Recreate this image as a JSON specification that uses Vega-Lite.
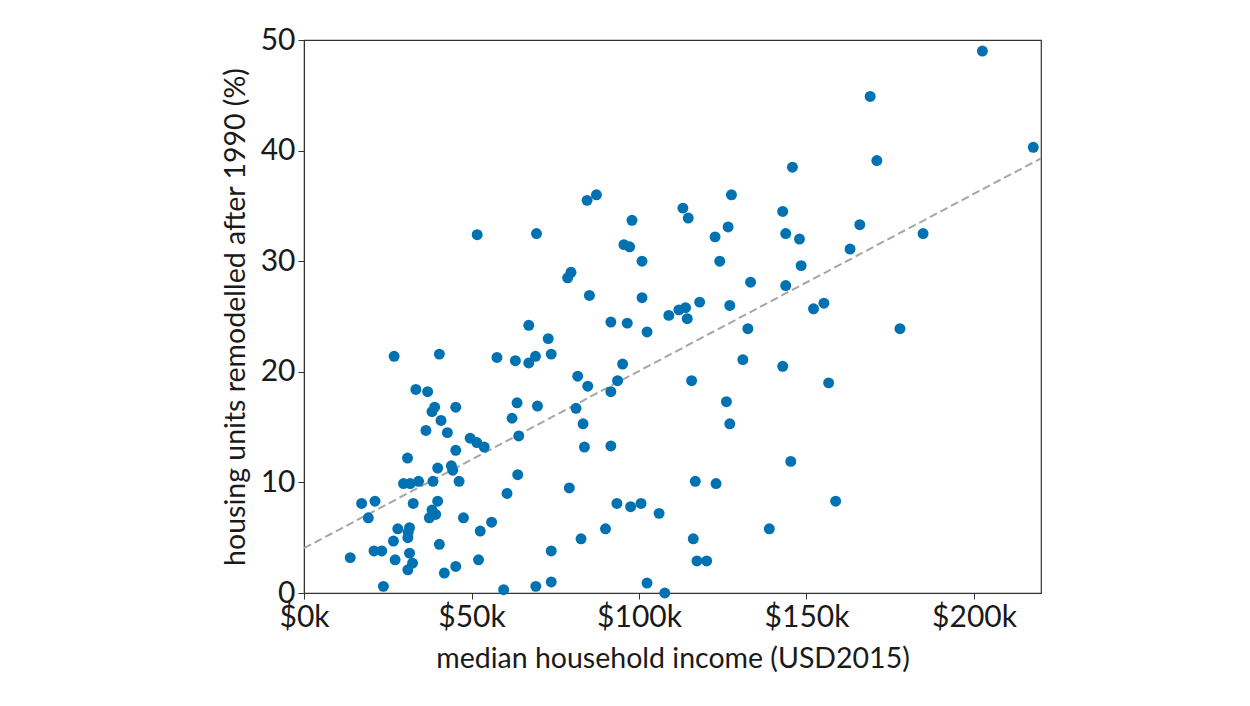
{
  "$schema": "https://vega.github.io/schema/vega-lite/v6.json",
  "autosize": "none",
  "width": 737,
  "height": 553,
  "padding": {"left": 304, "top": 40, "right": 209, "bottom": 113},
  "background": "white",
  "datasets": {
    "tracts": [
      {"income": 26900, "remodelled": 21.4}, {"income": 40400, "remodelled": 21.6},
      {"income": 57600, "remodelled": 21.3}, {"income": 63100, "remodelled": 21.0},
      {"income": 67100, "remodelled": 20.8}, {"income": 69100, "remodelled": 21.4},
      {"income": 33400, "remodelled": 18.4}, {"income": 36900, "remodelled": 18.2},
      {"income": 39000, "remodelled": 16.8}, {"income": 38200, "remodelled": 16.4},
      {"income": 45300, "remodelled": 16.8}, {"income": 40900, "remodelled": 15.6},
      {"income": 36400, "remodelled": 14.7}, {"income": 42800, "remodelled": 14.5},
      {"income": 63600, "remodelled": 17.2}, {"income": 62100, "remodelled": 15.8},
      {"income": 69700, "remodelled": 16.9}, {"income": 49600, "remodelled": 14.0},
      {"income": 51600, "remodelled": 13.6}, {"income": 53800, "remodelled": 13.2},
      {"income": 64100, "remodelled": 14.2}, {"income": 45300, "remodelled": 12.9},
      {"income": 30900, "remodelled": 12.2}, {"income": 39900, "remodelled": 11.3},
      {"income": 44000, "remodelled": 11.5}, {"income": 44400, "remodelled": 11.1},
      {"income": 29700, "remodelled": 9.9}, {"income": 31700, "remodelled": 9.9},
      {"income": 34200, "remodelled": 10.1}, {"income": 38500, "remodelled": 10.1},
      {"income": 46300, "remodelled": 10.1}, {"income": 63800, "remodelled": 10.7},
      {"income": 60600, "remodelled": 9.0}, {"income": 17200, "remodelled": 8.1},
      {"income": 21200, "remodelled": 8.3}, {"income": 19200, "remodelled": 6.8},
      {"income": 32600, "remodelled": 8.1}, {"income": 39900, "remodelled": 8.3},
      {"income": 38200, "remodelled": 7.5}, {"income": 39300, "remodelled": 7.1},
      {"income": 37400, "remodelled": 6.8}, {"income": 47600, "remodelled": 6.8},
      {"income": 56000, "remodelled": 6.4}, {"income": 52600, "remodelled": 5.6},
      {"income": 28000, "remodelled": 5.8}, {"income": 31500, "remodelled": 5.9},
      {"income": 31100, "remodelled": 5.5}, {"income": 31000, "remodelled": 5.0},
      {"income": 26700, "remodelled": 4.7}, {"income": 40400, "remodelled": 4.4},
      {"income": 20900, "remodelled": 3.8}, {"income": 23200, "remodelled": 3.8},
      {"income": 31500, "remodelled": 3.6}, {"income": 13800, "remodelled": 3.2},
      {"income": 27200, "remodelled": 3.0}, {"income": 32400, "remodelled": 2.7},
      {"income": 31000, "remodelled": 2.1}, {"income": 52100, "remodelled": 3.0},
      {"income": 45300, "remodelled": 2.4}, {"income": 41900, "remodelled": 1.8},
      {"income": 23700, "remodelled": 0.6}, {"income": 59600, "remodelled": 0.3},
      {"income": 69200, "remodelled": 0.6},
      {"income": 51700, "remodelled": 32.4}, {"income": 84500, "remodelled": 35.5},
      {"income": 87300, "remodelled": 36.0}, {"income": 69400, "remodelled": 32.5},
      {"income": 97900, "remodelled": 33.7}, {"income": 113100, "remodelled": 34.8},
      {"income": 114700, "remodelled": 33.9}, {"income": 127600, "remodelled": 36.0},
      {"income": 126600, "remodelled": 33.1}, {"income": 122700, "remodelled": 32.2},
      {"income": 124100, "remodelled": 30.0}, {"income": 95500, "remodelled": 31.5},
      {"income": 97200, "remodelled": 31.3}, {"income": 100900, "remodelled": 30.0},
      {"income": 78700, "remodelled": 28.5}, {"income": 79700, "remodelled": 29.0},
      {"income": 85200, "remodelled": 26.9}, {"income": 100900, "remodelled": 26.7},
      {"income": 133300, "remodelled": 28.1}, {"income": 127100, "remodelled": 26.0},
      {"income": 118100, "remodelled": 26.3}, {"income": 108900, "remodelled": 25.1},
      {"income": 111900, "remodelled": 25.6}, {"income": 113900, "remodelled": 25.8},
      {"income": 114400, "remodelled": 24.8}, {"income": 132500, "remodelled": 23.9},
      {"income": 91600, "remodelled": 24.5}, {"income": 96500, "remodelled": 24.4},
      {"income": 102400, "remodelled": 23.6}, {"income": 67100, "remodelled": 24.2},
      {"income": 72900, "remodelled": 23.0}, {"income": 73800, "remodelled": 21.6},
      {"income": 131000, "remodelled": 21.1}, {"income": 95100, "remodelled": 20.7},
      {"income": 93600, "remodelled": 19.2}, {"income": 91600, "remodelled": 18.2},
      {"income": 81700, "remodelled": 19.6}, {"income": 84700, "remodelled": 18.7},
      {"income": 115700, "remodelled": 19.2}, {"income": 81200, "remodelled": 16.7},
      {"income": 83300, "remodelled": 15.3}, {"income": 126100, "remodelled": 17.3},
      {"income": 127100, "remodelled": 15.3}, {"income": 83700, "remodelled": 13.2},
      {"income": 91600, "remodelled": 13.3}, {"income": 79200, "remodelled": 9.5},
      {"income": 116800, "remodelled": 10.1}, {"income": 123000, "remodelled": 9.9},
      {"income": 93400, "remodelled": 8.1}, {"income": 97500, "remodelled": 7.8},
      {"income": 100600, "remodelled": 8.1}, {"income": 106000, "remodelled": 7.2},
      {"income": 90000, "remodelled": 5.8}, {"income": 82700, "remodelled": 4.9},
      {"income": 73800, "remodelled": 3.8}, {"income": 116200, "remodelled": 4.9},
      {"income": 117300, "remodelled": 2.9}, {"income": 120200, "remodelled": 2.9},
      {"income": 73800, "remodelled": 1.0}, {"income": 102400, "remodelled": 0.9},
      {"income": 107700, "remodelled": 0.0},
      {"income": 145800, "remodelled": 38.5}, {"income": 171000, "remodelled": 39.1},
      {"income": 142900, "remodelled": 34.5}, {"income": 143800, "remodelled": 32.5},
      {"income": 147900, "remodelled": 32.0}, {"income": 165900, "remodelled": 33.3},
      {"income": 163000, "remodelled": 31.1}, {"income": 148400, "remodelled": 29.6},
      {"income": 143800, "remodelled": 27.8}, {"income": 152100, "remodelled": 25.7},
      {"income": 155200, "remodelled": 26.2}, {"income": 142900, "remodelled": 20.5},
      {"income": 156600, "remodelled": 19.0}, {"income": 145300, "remodelled": 11.9},
      {"income": 158700, "remodelled": 8.3}, {"income": 138900, "remodelled": 5.8},
      {"income": 202500, "remodelled": 49.0}, {"income": 169000, "remodelled": 44.9},
      {"income": 217700, "remodelled": 40.3}, {"income": 184800, "remodelled": 32.5},
      {"income": 177900, "remodelled": 23.9}
    ],
    "trend": [
      {"income": 0, "remodelled": 4.05},
      {"income": 220000, "remodelled": 39.3}
    ]
  },
  "layer": [
    {
      "data": {"name": "trend"},
      "mark": {"type": "line", "color": "#a6a6a6", "strokeWidth": 2, "strokeDash": [8, 4], "clip": true},
      "encoding": {
        "x": {"field": "income", "type": "quantitative"},
        "y": {"field": "remodelled", "type": "quantitative"}
      }
    },
    {
      "data": {"name": "tracts"},
      "mark": {"type": "circle", "size": 120, "color": "#0072b2", "opacity": 1},
      "encoding": {
        "x": {
          "field": "income",
          "type": "quantitative",
          "title": "median household income (USD2015)",
          "scale": {"domain": [0, 220000], "nice": false, "zero": false},
          "axis": {
            "values": [0, 50000, 100000, 150000, 200000],
            "labelExpr": "'$' + (datum.value / 1000) + 'k'",
            "grid": false
          }
        },
        "y": {
          "field": "remodelled",
          "type": "quantitative",
          "title": "housing units remodelled after 1990 (%)",
          "scale": {"domain": [0, 50], "nice": false},
          "axis": {"values": [0, 10, 20, 30, 40, 50], "grid": false}
        }
      }
    }
  ],
  "config": {
    "view": {"stroke": "#333333", "strokeWidth": 1.2},
    "font": "Lato",
    "axis": {
      "domainColor": "#333333",
      "tickColor": "#333333",
      "tickSize": 6,
      "labelFont": "Lato",
      "labelFontSize": 30,
      "labelColor": "#1a1a1a",
      "labelPadding": 3,
      "labelFlush": false,
      "labelOverlap": false,
      "titleFont": "Lato",
      "titleFontSize": 28.5,
      "titleFontWeight": "normal",
      "titleColor": "#1a1a1a"
    },
    "axisX": {"titlePadding": 12},
    "axisY": {"titlePadding": 10}
  }
}
